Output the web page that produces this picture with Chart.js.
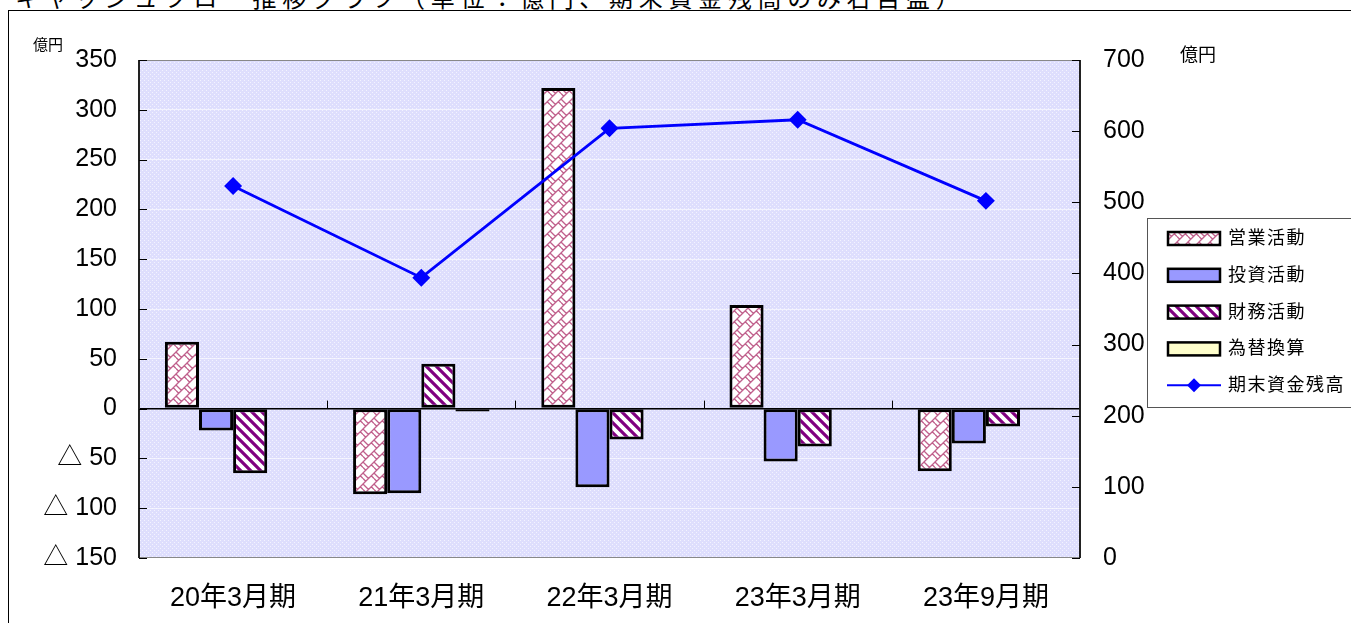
<!DOCTYPE html>
<html>
<head>
<meta charset="utf-8">
<script src="https://cdn.jsdelivr.net/npm/chart.js@4/dist/chart.umd.min.js"></script>
<style>
    html, body { margin: 0; padding: 0; background: #fff; overflow: hidden; }
    #wrap { position: relative; width: 1351px; height: 623px; overflow: hidden; }
    #frame { position: absolute; left: 8px; top: 10px; width: 1400px; height: 700px; border: 1px solid #000; }
    #title { position: absolute; left: 15px; top: -21px; font: 24px 'Noto Sans CJK JP', sans-serif; letter-spacing: 5.7px; white-space: nowrap; }
    .unit { position: absolute; font-family: 'Noto Sans CJK JP', sans-serif; }
    canvas { position: absolute; left: 0; top: 0; }
</style>
</head>
<body>
<div id="wrap">
    <div id="title">キャッシュフロー推移グラフ（単位：億円、期末資金残高のみ右目盛）</div>
    <div id="frame"></div>
    <canvas id="cf-chart" width="1351" height="623"></canvas>
    <div class="unit" style="left:33px;top:33px;font-size:15px;">億円</div>
    <div class="unit" style="left:1180px;top:40px;font-size:18px;">億円</div>
</div>
<script>
// data
const periods = ['20年3月期', '21年3月期', '22年3月期', '23年3月期', '23年9月期'];
const seriesNames = ['営業活動', '投資活動', '財務活動', '為替換算', '期末資金残高'];
const operating = [67, -86, 322, 104, -63];
const investing = [-22, -85, -79, -53, -35];
const financing = [-65, 45, -31, -38, -18];
const exchange = [0, -3, -1, -1, 1];
const cashBalance = [523, 394, 604, 616, 502];
const leftTicks = [-150, -100, -50, 0, 50, 100, 150, 200, 250, 300, 350];
const rightTicks = [0, 100, 200, 300, 400, 500, 600, 700];
const negMark = '△ ';

const FONT = "'Liberation Sans', 'Noto Sans CJK JP', sans-serif";

function makePattern(size, draw) {
    const c = document.createElement('canvas');
    c.width = c.height = size;
    const g = c.getContext('2d');
    draw(g, size);
    return g.createPattern(c, 'repeat');
}

// plot background: lavender with faint dots
const bgPattern = makePattern(4, function (g) {
    g.fillStyle = '#dedefd';
    g.fillRect(0, 0, 4, 4);
    g.fillStyle = '#f3f3ff';
    g.fillRect(0, 0, 1, 1);
    g.fillRect(2, 2, 1, 1);
});

// diagonal brick
const brickPattern = makePattern(11, function (g, s) {
    g.fillStyle = '#fff';
    g.fillRect(0, 0, s, s);
    g.strokeStyle = '#c0608c';
    g.lineWidth = 1.3;
    const h = s / 2, q = s / 4;
    g.beginPath();
    g.moveTo(0, s); g.lineTo(s, 0);
    g.moveTo(-1, 1); g.lineTo(1, -1);
    g.moveTo(s - 1, s + 1); g.lineTo(s + 1, s - 1);
    g.moveTo(0, 0); g.lineTo(h, h);
    g.moveTo(s - q, q); g.lineTo(s, h);
    g.moveTo(0, h); g.lineTo(q, s - q);
    g.stroke();
});

// wide downward diagonal stripes
const stripePattern = makePattern(10, function (g, s) {
    g.fillStyle = '#fff';
    g.fillRect(0, 0, s, s);
    g.strokeStyle = '#800080';
    g.lineWidth = 3.2;
    g.beginPath();
    for (let k = -1; k <= 1; k++) {
        g.moveTo(k * s - 2, -2);
        g.lineTo(k * s + s + 2, s + 2);
    }
    g.stroke();
});

const barFills = [brickPattern, '#9999ff', stripePattern, '#ffffcc'];

const plotDecor = {
    id: 'plotDecor',
    beforeDraw(chart) {
        const a = chart.chartArea;
        const ctx = chart.ctx;
        ctx.save();
        ctx.fillStyle = bgPattern;
        ctx.fillRect(a.left, a.top, a.right - a.left, a.bottom - a.top);
        ctx.restore();
    },
    beforeDatasetsDraw(chart) {
        const a = chart.chartArea;
        const ctx = chart.ctx;
        const y = chart.scales.y, y2 = chart.scales.y2;
        ctx.save();
        ctx.strokeStyle = '#888';
        ctx.lineWidth = 1;
        ctx.strokeRect(a.left + 0.5, a.top + 0.5, a.right - a.left - 1, a.bottom - a.top - 1);
        ctx.strokeStyle = '#222';
        ctx.lineWidth = 2;
        ctx.beginPath();
        ctx.moveTo(a.left, a.top); ctx.lineTo(a.left, a.bottom);
        ctx.moveTo(a.right, a.top); ctx.lineTo(a.right, a.bottom);
        ctx.stroke();
        ctx.lineWidth = 1;
        ctx.strokeStyle = '#000';
        ctx.beginPath();
        leftTicks.forEach(function (v) {
            const py = Math.round(y.getPixelForValue(v)) + 0.5;
            ctx.moveTo(a.left, py); ctx.lineTo(a.left + 8, py);
        });
        rightTicks.forEach(function (v) {
            const py = Math.round(y2.getPixelForValue(v)) + 0.5;
            ctx.moveTo(a.right - 8, py); ctx.lineTo(a.right, py);
        });
        // category boundary marks on the zero line
        const zy = y.getPixelForValue(0);
        const step = (a.right - a.left) / periods.length;
        for (let i = 1; i < periods.length; i++) {
            const px = Math.round(a.left + step * i) + 0.5;
            ctx.moveTo(px, zy - 8); ctx.lineTo(px, zy);
        }
        ctx.stroke();
        ctx.restore();
    },
    afterDraw(chart) {
        // legend box
        const ctx = chart.ctx;
        const bx = 1147, by = 218, bw = 210, bh = 189;
        ctx.save();
        ctx.fillStyle = '#fff';
        ctx.fillRect(bx, by, bw, bh);
        ctx.strokeStyle = '#555';
        ctx.lineWidth = 1;
        ctx.strokeRect(bx + 0.5, by + 0.5, bw, bh);
        ctx.font = '18px ' + FONT;
        ctx.letterSpacing = '1.5px';
        ctx.textBaseline = 'middle';
        ctx.fillStyle = '#000';
        chart.data.datasets.forEach(function (ds, i) {
            const cy = 238 + i * 36.8;
            if (ds.type === 'line') {
                ctx.strokeStyle = '#0000ff';
                ctx.lineWidth = 2;
                ctx.beginPath();
                ctx.moveTo(1167, cy); ctx.lineTo(1221, cy);
                ctx.stroke();
                ctx.fillStyle = '#0000ff';
                ctx.beginPath();
                ctx.moveTo(1194, cy - 7); ctx.lineTo(1201, cy); ctx.lineTo(1194, cy + 7); ctx.lineTo(1187, cy);
                ctx.closePath();
                ctx.fill();
            } else {
                ctx.fillStyle = ds.backgroundColor;
                ctx.fillRect(1168, cy - 6, 52, 13);
                ctx.strokeStyle = '#000';
                ctx.lineWidth = 2.5;
                ctx.strokeRect(1168, cy - 6, 52, 13);
            }
            ctx.fillStyle = '#000';
            ctx.fillText(ds.label, 1228, cy + 1);
        });
        ctx.restore();
    }
};

function barSet(i, values) {
    return {
        type: 'bar',
        label: seriesNames[i],
        data: values,
        backgroundColor: barFills[i],
        borderColor: '#000',
        borderWidth: 3,
        borderSkipped: false,
        yAxisID: 'y',
        order: 2
    };
}

new Chart(document.getElementById('cf-chart'), {
    data: {
        labels: periods,
        datasets: [
            barSet(0, operating),
            barSet(1, investing),
            barSet(2, financing),
            barSet(3, exchange),
            {
                type: 'line',
                label: seriesNames[4],
                data: cashBalance,
                borderColor: '#0000ff',
                backgroundColor: '#0000ff',
                borderWidth: 2.8,
                pointStyle: 'rectRot',
                pointRadius: 7,
                pointHoverRadius: 7,
                yAxisID: 'y2',
                order: 1
            }
        ]
    },
    options: {
        responsive: false,
        animation: false,
        layout: { padding: { top: 60, left: 0, right: 0, bottom: 0 } },
        datasets: { bar: { categoryPercentage: 0.725, barPercentage: 1.0 } },
        plugins: { legend: { display: false }, tooltip: { enabled: false } },
        scales: {
            x: {
                grid: { display: false, drawTicks: false },
                border: { display: false },
                ticks: { color: '#000', padding: 24, font: { family: FONT, size: 27 } },
                afterFit: function (s) { s.height = 65; }
            },
            y: {
                position: 'left',
                min: -150, max: 350,
                grid: {
                    drawTicks: false,
                    color: function (c) { return c.tick.value === 0 ? '#000' : 'rgba(255,255,255,0.6)'; },
                    lineWidth: function (c) { return c.tick.value === 0 ? 1.5 : 1; }
                },
                border: { display: false },
                ticks: {
                    stepSize: 50,
                    padding: 22,
                    color: '#000',
                    font: { family: FONT, size: 25 },
                    callback: function (v) { return v < 0 ? negMark + Math.abs(v) : String(v); }
                },
                afterFit: function (s) { s.width = 139; }
            },
            y2: {
                position: 'right',
                min: 0, max: 700,
                grid: { display: false, drawTicks: false },
                border: { display: false },
                ticks: { stepSize: 100, padding: 23, color: '#000', font: { family: FONT, size: 25 } },
                afterFit: function (s) { s.width = 271; }
            }
        }
    },
    plugins: [plotDecor]
});
</script>
</body>
</html>
